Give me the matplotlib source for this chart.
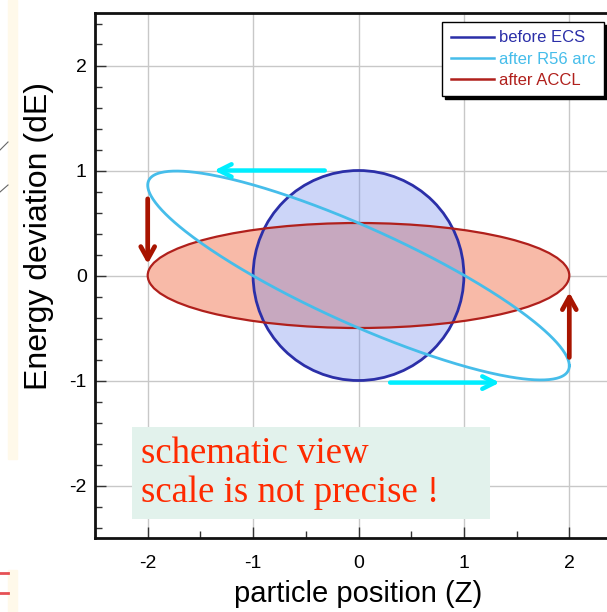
import numpy as np
import matplotlib
matplotlib.use("Agg")
import matplotlib.pyplot as plt
from matplotlib.patches import Circle, Ellipse, Rectangle
from matplotlib.lines import Line2D
from matplotlib.ticker import MultipleLocator

# ---- longitudinal phase-space shapes ----
ecs_center = [0.0, 0.0]
ecs_radius = 1.0
accl_semi_axes = [2.0, 0.5]          # (Z half-width, dE half-height) after ACCL
r56_chirp = 0.43                     # dE-vs-Z correlation after the R56 arc

series_labels = ["before ECS", "after R56 arc", "after ACCL"]
series_colors = ["#2b2fa8", "#46bdea", "#b0201c"]

# ---- arrows (tail, head) ----
cyan_arrows = [[(-0.32, 1.00), (-1.37, 1.00)],
               [(0.30, -1.02), (1.34, -1.02)]]
red_arrows = [[(-2.00, 0.73), (-2.00, 0.11)],
              [(2.00, -0.78), (2.00, -0.16)]]

x_ticks = [-2, -1, 0, 1, 2]
y_ticks = [-2, -1, 0, 1, 2]
x_label = "particle position (Z)"
y_label = "Energy deviation (dE)"
note_lines = ["schematic view", "scale is not precise !"]

W, H = 607, 612
plt.rcParams["font.family"] = ["Liberation Sans", "DejaVu Sans"]
plt.rcParams["axes.unicode_minus"] = False
fig = plt.figure(figsize=(W / 100, H / 100), dpi=100)

# slide background remnants on the far left
fig.patches.append(Rectangle((8 / W, 1 - 459 / H), 9 / W, 459 / H,
                             transform=fig.transFigure, color="#fff9ea", zorder=0))
fig.patches.append(Rectangle((8 / W, 0), 9 / W, 42 / H,
                             transform=fig.transFigure, color="#fff9ea", zorder=0))
for yy in (573, 593):
    fig.lines.append(Line2D([0, 8 / W], [1 - yy / H, 1 - yy / H],
                            transform=fig.transFigure, color="#e0242a", lw=2, alpha=0.8))
for y0, y1 in ((150, 142), (192, 185)):
    fig.lines.append(Line2D([0, 8 / W], [1 - y0 / H, 1 - y1 / H],
                            transform=fig.transFigure, color="#666666", lw=0.8))

ax = fig.add_axes([95 / W, 1 - 538 / H, 527 / W, 525 / H])
ax.set_xlim(-2.5, 2.5)
ax.set_ylim(-2.5, 2.5)

ax.set_xticks(x_ticks)
ax.set_yticks(y_ticks)
ax.xaxis.set_minor_locator(MultipleLocator(0.5))
ax.yaxis.set_minor_locator(MultipleLocator(0.2))
ax.tick_params(which="both", direction="in", top=False, right=False,
               labelsize=14, width=1, color="#333333")
ax.tick_params(axis="x", which="major", length=8, pad=12)
ax.tick_params(axis="y", which="major", length=8, pad=6)
ax.tick_params(which="minor", length=5)
ax.grid(True, which="major", color="#c8c8c8", lw=1)
ax.set_axisbelow(True)
for s in ax.spines.values():
    s.set_linewidth(2)
    s.set_color("#111111")

ax.set_xlabel(x_label, fontsize=21)
ax.xaxis.set_label_coords(0.5, -0.08)
ax.set_ylabel(y_label, fontsize=23)
ax.yaxis.set_label_coords(-0.077, 0.575)

# after ACCL: flat ellipse (fill)
ax.add_patch(Ellipse(ecs_center, 2 * accl_semi_axes[0], 2 * accl_semi_axes[1],
                     facecolor="#f8baa8", edgecolor="none", zorder=2))
# before ECS: round beam (fill, translucent over the ellipse)
ax.add_patch(Circle(ecs_center, ecs_radius, facecolor="#6d87eb", alpha=0.35,
                    edgecolor="none", zorder=3))
ax.add_patch(Circle(ecs_center, ecs_radius, facecolor="none",
                    edgecolor=series_colors[0], lw=2, zorder=5))
ax.add_patch(Ellipse(ecs_center, 2 * accl_semi_axes[0], 2 * accl_semi_axes[1],
                     facecolor="none", edgecolor=series_colors[2], lw=1.6, zorder=5))

# after R56 arc: chirped ellipse
t = np.linspace(0, 2 * np.pi, 400)
z = ecs_center[0] + accl_semi_axes[0] * np.cos(t)
de = ecs_center[1] + accl_semi_axes[1] * np.sin(t) - r56_chirp * accl_semi_axes[0] * np.cos(t)
ax.plot(z, de, color=series_colors[1], lw=2, zorder=6)

for (x0, y0), (x1, y1) in cyan_arrows:
    ax.annotate("", xy=(x1, y1), xytext=(x0, y0),
                arrowprops=dict(arrowstyle="->,head_length=0.9,head_width=0.45",
                                color="#00eeff", lw=3.2, shrinkA=0, shrinkB=0),
                zorder=7)
for (x0, y0), (x1, y1) in red_arrows:
    ax.annotate("", xy=(x1, y1), xytext=(x0, y0),
                arrowprops=dict(arrowstyle="->,head_length=0.9,head_width=0.5",
                                color="#a81400", lw=3.4, shrinkA=0, shrinkB=0),
                zorder=7)

# note box
note_box = Rectangle((-2.15, -2.32), 3.40, 0.875, facecolor="#e2f2ec",
                     edgecolor="none", zorder=8)
ax.add_patch(note_box)
ax.text(-2.06, -1.79, note_lines[0], fontsize=26.5, color="#ff2a00",
        family="Liberation Serif", va="baseline", ha="left", zorder=9)
ax.text(-2.06, -2.16, note_lines[1], fontsize=26.5, color="#ff2a00",
        family="Liberation Serif", va="baseline", ha="left", zorder=9)

handles = [Line2D([], [], color=c, lw=1.8) for c in series_colors]
leg = fig.legend(handles, series_labels, loc="upper right",
                 bbox_to_anchor=(604 / W, 1 - 22 / H), bbox_transform=fig.transFigure,
                 fontsize=12, frameon=True, fancybox=False, handlelength=2.6,
                 handletextpad=0.3, borderpad=0.5, labelspacing=0.38,
                 borderaxespad=0, shadow={"color": "black", "alpha": 1.0})
leg.get_frame().set_edgecolor("black")
leg.get_frame().set_linewidth(1)
for txt, c in zip(leg.get_texts(), series_colors):
    txt.set_color(c)

fig.savefig("out.png", dpi=100)
